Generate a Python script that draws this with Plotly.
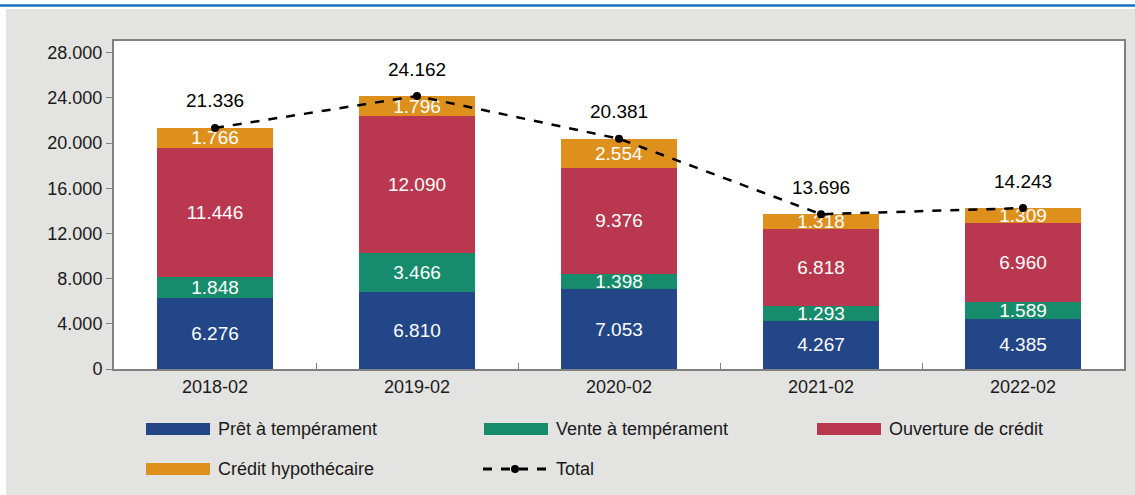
import plotly.graph_objects as go

categories = ["2018-02", "2019-02", "2020-02", "2021-02", "2022-02"]
pret = [6276, 6810, 7053, 4267, 4385]
vente = [1848, 3466, 1398, 1293, 1589]
ouverture = [11446, 12090, 9376, 6818, 6960]
hypo = [1766, 1796, 2554, 1318, 1309]
total = [21336, 24162, 20381, 13696, 14243]
y_ticks = [0, 4000, 8000, 12000, 16000, 20000, 24000, 28000]

names = ["Prêt à tempérament", "Vente à tempérament", "Ouverture de crédit",
         "Crédit hypothécaire", "Total"]
colors = ["#234688", "#178c6c", "#b9374f", "#de901c"]
series = [pret, vente, ouverture, hypo]

FONT = "Liberation Sans, Arial, sans-serif"
W, H = 1135, 495
L, R, T, B = 114, 11, 41, 126
PW, PH = W - L - R, H - T - B


def px(x):
    return (x - L) / PW


def py(y):
    return (H - B - y) / PH


fig = go.Figure()
for name, vals, col in zip(names[:4], series, colors):
    fig.add_trace(go.Bar(
        x=categories, y=vals, name=name, marker=dict(color=col, line=dict(width=0)),
        texttemplate="%{y:,.0f}", textposition="inside", insidetextanchor="middle",
        textfont=dict(color="white", size=19, family=FONT), showlegend=False,
        hoverinfo="skip"))

fig.add_trace(go.Scatter(
    x=categories, y=total, name=names[4], mode="lines+markers",
    line=dict(color="black", width=2.5, dash="dash"),
    marker=dict(color="black", size=8), showlegend=False))

annotations = []
for c, v in zip(categories, total):
    annotations.append(dict(x=c, y=v, xref="x", yref="y", text=f"{v:,}".replace(",", "."),
                            showarrow=False, yshift=27,
                            font=dict(size=19, color="black", family=FONT)))

shapes = []
# white strips around the gray panel, and the top blue rule
shapes.append(dict(type="rect", xref="paper", yref="paper", x0=px(-5), x1=px(W + 5),
                   y0=py(9), y1=py(-5), fillcolor="white", line=dict(width=0), layer="below"))
shapes.append(dict(type="rect", xref="paper", yref="paper", x0=px(-5), x1=px(6),
                   y0=py(H + 5), y1=py(-5), fillcolor="white", line=dict(width=0), layer="below"))
shapes.append(dict(type="line", xref="paper", yref="paper", x0=px(0), x1=px(W + 5),
                   y0=py(5.5), y1=py(5.5), line=dict(color="#1a6fc0", width=2.5)))

# legend
legend_pos = [(146, 429), (484, 429), (817, 429), (146, 469), (484, 469)]
for i, (name, (lx, ly)) in enumerate(zip(names, legend_pos)):
    if i < 4:
        shapes.append(dict(type="rect", xref="paper", yref="paper", x0=px(lx), x1=px(lx + 64),
                           y0=py(ly + 6), y1=py(ly - 6), fillcolor=colors[i], line=dict(width=0)))
    else:
        shapes.append(dict(type="line", xref="paper", yref="paper", x0=px(lx - 1), x1=px(lx + 63),
                           y0=py(ly), y1=py(ly), line=dict(color="black", width=3, dash="dash")))
        shapes.append(dict(type="circle", xref="paper", yref="paper", x0=px(lx + 27), x1=px(lx + 35),
                           y0=py(ly + 4), y1=py(ly - 4), fillcolor="black", line=dict(width=0)))
    annotations.append(dict(x=px(lx + 70), y=py(ly), xref="paper", yref="paper", text=name,
                            showarrow=False, xanchor="left", yanchor="middle",
                            font=dict(size=18, color="#1a1a1a", family=FONT)))

fig.update_layout(
    width=W, height=H, barmode="stack", bargap=0.426,
    margin=dict(l=L, r=R, t=T, b=B, autoexpand=False),
    paper_bgcolor="#e3e3e1", plot_bgcolor="white",
    separators=",.",
    uniformtext=dict(minsize=19, mode="show"),
    font=dict(family=FONT, color="#1a1a1a", size=18),
    shapes=shapes, annotations=annotations, showlegend=False,
    xaxis=dict(type="category", automargin=False,
               showline=True, linecolor="#808080", linewidth=2, mirror=True,
               ticks="inside", tickson="boundaries", ticklen=6, tickcolor="#808080",
               tickfont=dict(size=18, color="#1a1a1a"), showgrid=False),
    yaxis=dict(range=[0, 29030], tickvals=y_ticks, tickformat=",.0f", automargin=False,
               showline=True, linecolor="#808080", linewidth=2, mirror=True,
               ticks="outside", ticklen=6, tickcolor="#808080",
               tickfont=dict(size=18, color="#1a1a1a"), showgrid=False, zeroline=False),
)

fig.write_html("out.html", config={"displayModeBar": False},
               post_script="document.body.style.margin='0';document.body.style.overflow='hidden';")
